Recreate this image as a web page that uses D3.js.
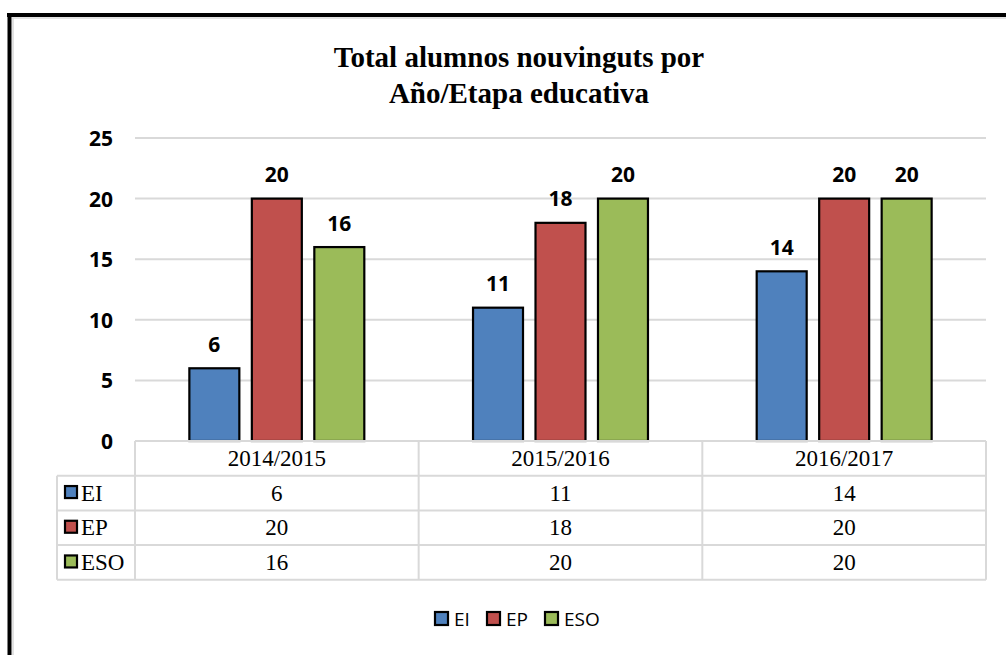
<!DOCTYPE html>
<html><head><meta charset="utf-8">
<script src="https://cdn.jsdelivr.net/npm/d3@7"></script>
<style>html,body{margin:0;padding:0;background:#fff;}</style>
</head><body>
<svg id="c" width="1006" height="655"></svg>
<script>
const categories = ["2014/2015", "2015/2016", "2016/2017"];
const seriesNames = ["EI", "EP", "ESO"];
const EI = [6, 11, 14];
const EP = [20, 18, 20];
const ESO = [16, 20, 20];
const seriesColors = ["#4f81bd", "#c0504d", "#9bbb59"];
const yTicks = [0, 5, 10, 15, 20, 25];
const titleLines = ["Total alumnos nouvinguts por", "Año/Etapa educativa"];

const series = [EI, EP, ESO];
const svg = d3.select("#c");
const sans = "'Open Sans','Noto Sans',sans-serif";
const serif = "'Liberation Serif','Times New Roman',serif";

// outer frame
svg.append("rect").attr("x", 0).attr("y", 0).attr("width", 1006).attr("height", 655).attr("fill", "#fff");
svg.append("line").attr("x1", 12).attr("x2", 1006).attr("y1", 18).attr("y2", 18).attr("stroke", "#d9d9d9").attr("stroke-width", 1.5);
svg.append("line").attr("x1", 13).attr("x2", 13).attr("y1", 18).attr("y2", 655).attr("stroke", "#d9d9d9").attr("stroke-width", 1.5);
svg.append("line").attr("x1", 7).attr("x2", 1006).attr("y1", 15).attr("y2", 15).attr("stroke", "#000").attr("stroke-width", 4);
svg.append("line").attr("x1", 9.5).attr("x2", 9.5).attr("y1", 13).attr("y2", 655).attr("stroke", "#000").attr("stroke-width", 4);

const L = 135, R = 986, T = 138, B = 441;
const x = d3.scaleBand().domain(categories).range([L, R]).paddingInner(0).paddingOuter(0);
const xs = d3.scaleBand().domain(seriesNames).range([0, x.bandwidth()]).paddingInner(0.2).paddingOuter(0.87);
const y = d3.scaleLinear().domain([0, 25]).range([B, T]);

// title
svg.append("text").attr("x", 519).attr("font-family", serif)
  .attr("font-weight", "bold").attr("font-size", 29).attr("text-anchor", "middle").attr("fill", "#000")
  .selectAll("tspan").data(titleLines).join("tspan").attr("x", 519).attr("y", (d, i) => 67 + i * 36).text(d => d);

// gridlines
svg.append("g").selectAll("line").data(yTicks.filter(d => d > 0)).join("line")
  .attr("x1", L).attr("x2", R).attr("y1", d => y(d)).attr("y2", d => y(d))
  .attr("stroke", "#d9d9d9").attr("stroke-width", 2);

// y axis labels
const yAxis = d3.axisLeft(y).tickValues(yTicks).tickSize(0).tickPadding(0);
const yg = svg.append("g").attr("transform", `translate(${L - 22},0)`).call(yAxis);
yg.select(".domain").remove();
yg.selectAll("text").attr("font-family", sans).attr("font-weight", "bold")
  .attr("font-size", 21).attr("fill", "#000").attr("dy", "0.36em");

// bars
const groups = svg.append("g").selectAll("g").data(categories).join("g")
  .attr("transform", d => `translate(${x(d)},0)`);
groups.each(function (cat, ci) {
  const g = d3.select(this);
  seriesNames.forEach((s, si) => {
    const v = series[si][ci];
    g.append("rect").attr("x", xs(s)).attr("width", xs.bandwidth())
      .attr("y", y(v)).attr("height", y(0) - y(v))
      .attr("fill", seriesColors[si]).attr("stroke", "#000").attr("stroke-width", 2.2);
    g.append("text").attr("x", xs(s) + xs.bandwidth() / 2).attr("y", y(v) - 24).attr("dy", "0.36em")
      .attr("text-anchor", "middle").attr("font-family", sans)
      .attr("font-weight", "bold").attr("font-size", 21).attr("fill", "#000").text(v);
  });
});

// data table
const rowH = 34.7;
const tableLeft = 57;
const tg = svg.append("g");
const gridStroke = "#d9d9d9";
for (let r = 0; r <= 4; r++) {
  const yy = B + r * rowH;
  tg.append("line").attr("x1", r === 0 ? L : tableLeft).attr("x2", R).attr("y1", yy).attr("y2", yy)
    .attr("stroke", gridStroke).attr("stroke-width", 2);
}
[L, ...categories.map(c => x(c) + x.bandwidth())].forEach(xx => {
  tg.append("line").attr("x1", xx).attr("x2", xx).attr("y1", B).attr("y2", B + 4 * rowH)
    .attr("stroke", gridStroke).attr("stroke-width", 2);
});
tg.append("line").attr("x1", tableLeft).attr("x2", tableLeft).attr("y1", B + rowH).attr("y2", B + 4 * rowH)
  .attr("stroke", gridStroke).attr("stroke-width", 2);

const tfs = 23;
categories.forEach(c => {
  tg.append("text").attr("x", x(c) + x.bandwidth() / 2).attr("y", B + rowH / 2).attr("dy", "0.33em")
    .attr("text-anchor", "middle").attr("font-family", serif).attr("font-size", tfs).attr("fill", "#000").text(c);
});
seriesNames.forEach((s, si) => {
  const cy = B + rowH * (si + 1) + rowH / 2;
  tg.append("rect").attr("x", 65).attr("y", cy - 7).attr("width", 12).attr("height", 12)
    .attr("fill", seriesColors[si]).attr("stroke", "#000").attr("stroke-width", 2.2);
  tg.append("text").attr("x", 81).attr("y", cy).attr("dy", "0.33em").attr("font-family", serif)
    .attr("font-size", tfs).attr("fill", "#000").text(s);
  categories.forEach((c, ci) => {
    tg.append("text").attr("x", x(c) + x.bandwidth() / 2).attr("y", cy).attr("dy", "0.33em")
      .attr("text-anchor", "middle").attr("font-family", serif).attr("font-size", tfs).attr("fill", "#000")
      .text(series[si][ci]);
  });
});

// legend
const legendX = [435, 487, 545];
const lg = svg.append("g");
seriesNames.forEach((s, si) => {
  lg.append("rect").attr("x", legendX[si]).attr("y", 612).attr("width", 13).attr("height", 13)
    .attr("fill", seriesColors[si]).attr("stroke", "#000").attr("stroke-width", 2.2);
  lg.append("text").attr("x", legendX[si] + 19).attr("y", 619).attr("dy", "0.36em")
    .attr("font-family", sans).attr("font-size", 19).attr("fill", "#000").text(s);
});
</script>
</body></html>
